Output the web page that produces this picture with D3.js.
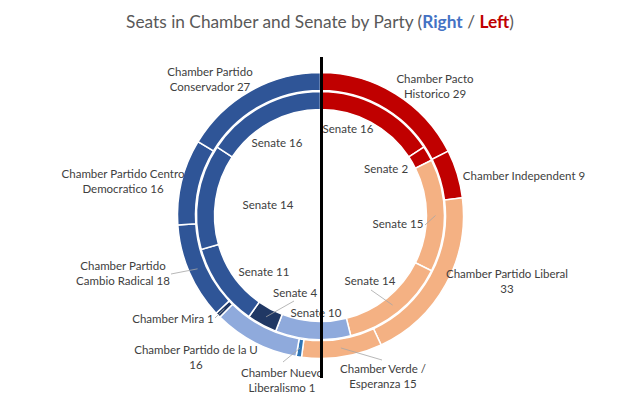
<!DOCTYPE html>
<html>
<head>
<meta charset="utf-8">
<script src="https://cdn.jsdelivr.net/npm/d3@7"></script>
<style>
  body { margin: 0; background: #fff; }
  text { font-family: Lato, "Open Sans", sans-serif; }
</style>
</head>
<body>
<script>
// Parties, clockwise from the top
var parties = ["Pacto Historico", "Independent", "Partido Liberal", "Verde / Esperanza",
               "Nuevo Liberalismo", "Partido de la U", "Mira", "Partido Cambio Radical",
               "Partido Centro Democratico", "Partido Conservador"];
var chamberSeats = [29, 9, 33, 15, 1, 16, 1, 18, 16, 27];
var senateSeats  = [16, 2, 15, 14, 0, 10, 4, 11, 14, 16];
var partyColors  = ["#C00000", "#C00000", "#F4B183", "#F4B183", "#2E75B6",
                    "#8FAADC", "#203864", "#2F5597", "#2F5597", "#2F5597"];

// label text (lines), as in the reference
var chamberLabels = [["Chamber Pacto", "Historico 29"], ["Chamber Independent 9"],
                     ["Chamber Partido Liberal", "33"], ["Chamber Verde /", "Esperanza 15"],
                     ["Chamber Nuevo", "Liberalismo 1"], ["Chamber Partido de la U", "16"],
                     ["Chamber Mira 1"], ["Chamber Partido", "Cambio Radical 18"],
                     ["Chamber Partido Centro", "Democratico 16"], ["Chamber Partido", "Conservador 27"]];
var senateLabels = ["Senate 16", "Senate 2", "Senate 15", "Senate 14", "", "Senate 10",
                    "Senate 4", "Senate 11", "Senate 14", "Senate 16"];

// label layout: [x center, first baseline, leader start x, leader start y]
var chamberLayout = [[435, 83], [524, 180], [507, 278], [383, 373, 382, 360], [282, 377, 283, 362],
                     [196, 354], [173, 323, 215, 318], [123, 270, 171, 274], [123, 178], [210, 76]];
var senateLayout = [[348, 133], [386, 173], [398, 228, 425, 225], [370, 285, 371, 290], null,
                    [316, 317], [295, 297, 294, 301], [264, 276], [268, 209], [277, 147]];

var W = 643, H = 397;
var cx = 320.5, cy = 215.5;

var svg = d3.select("body").append("svg")
            .attr("width", W)
            .attr("height", H);

// title
var title = svg.append("text")
               .attr("x", 320)
               .attr("y", 28)
               .attr("text-anchor", "middle")
               .style("font-size", "17.3px")
               .style("fill", "#595959");
title.append("tspan").text("Seats in Chamber and Senate by Party (");
title.append("tspan").text("Right").style("fill", "#4472C4").style("font-weight", "bold");
title.append("tspan").text(" / ");
title.append("tspan").text("Left").style("fill", "#C00000").style("font-weight", "bold");
title.append("tspan").text(")");

var pie = d3.pie().sort(null).value(d => d);

var rings = [
  {values: chamberSeats, r0: 125, r1: 143},
  {values: senateSeats, r0: 106, r1: 124}
];

const g = svg.append("g").attr("transform", `translate(${cx}, ${cy})`);

var arcs = rings.map(ring => {
  var arc = d3.arc().innerRadius(ring.r0).outerRadius(ring.r1);
  var slices = pie(ring.values);
  g.append("g").selectAll("path")
   .data(slices.filter(d => d.data > 0))
   .enter().append("path")
   .attr("d", arc)
   .attr("fill", d => partyColors[d.index])
   .attr("stroke", "#fff")
   .attr("stroke-width", 1.5);
  return {arc: arc, slices: slices};
});

// labels + leader lines
function drawLabels(ringIdx, labels, layout) {
  var arc = arcs[ringIdx].arc, slices = arcs[ringIdx].slices;
  slices.forEach((d, i) => {
    var pos = layout[i];
    if (!pos) return;
    if (pos.length > 2) {
      var c = arc.centroid(d);
      svg.append("line")
         .attr("x1", pos[2]).attr("y1", pos[3])
         .attr("x2", cx + c[0]).attr("y2", cy + c[1])
         .attr("stroke", "#a6a6a6")
         .attr("stroke-width", 0.8);
    }
    var lines = Array.isArray(labels[i]) ? labels[i] : [labels[i]];
    var t = svg.append("text")
               .attr("text-anchor", "middle")
               .style("font-size", "11.5px")
               .style("fill", "#404040");
    lines.forEach((s, k) => {
      t.append("tspan").attr("x", pos[0]).attr("y", pos[1] + k * 14.5).text(s);
    });
  });
}
drawLabels(0, chamberLabels, chamberLayout);
drawLabels(1, senateLabels, senateLayout);

// black divider
svg.append("line")
   .attr("x1", 321.5).attr("x2", 321.5)
   .attr("y1", 57).attr("y2", 378)
   .attr("stroke", "#000")
   .attr("stroke-width", 3);
</script>
</body>
</html>
